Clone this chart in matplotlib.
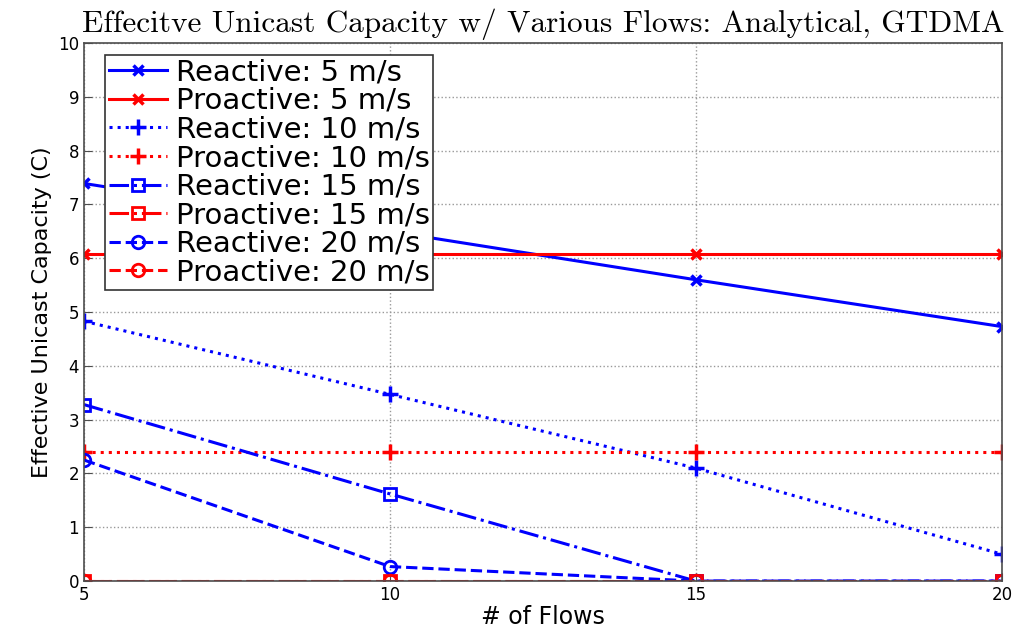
import numpy as np
import matplotlib.pyplot as plt

flows = [5, 10, 15, 20]
reactive_5 = [7.39, 6.5, 5.6, 4.73]
proactive_5 = [6.07, 6.07, 6.07, 6.07]
reactive_10 = [4.83, 3.47, 2.1, 0.5]
proactive_10 = [2.4, 2.4, 2.4, 2.4]
reactive_15 = [3.28, 1.62, 0.0, 0.0]
proactive_15 = [0.0, 0.0, 0.0, 0.0]
reactive_20 = [2.25, 0.27, 0.0, 0.0]
proactive_20 = [0.0, 0.0, 0.0, 0.0]

fig = plt.figure(figsize=(10.21, 6.33), dpi=100)
ax = fig.add_axes([0.0823, 0.082, 0.8990, 0.850])

lw = 2.2
ax.plot(flows, reactive_5, color='blue', ls='-', marker='x', ms=7, mew=2.5, lw=lw, label='Reactive: 5 m/s')
ax.plot(flows, proactive_5, color='red', ls='-', marker='x', ms=7, mew=2.5, lw=lw, label='Proactive: 5 m/s')
ax.plot(flows, reactive_10, color='blue', ls=':', marker='+', ms=11, mew=2.5, lw=lw, label='Reactive: 10 m/s')
ax.plot(flows, proactive_10, color='red', ls=':', marker='+', ms=11, mew=2.5, lw=lw, label='Proactive: 10 m/s')
ax.plot(flows, reactive_15, color='blue', ls='-.', marker='s', ms=8, mew=2, mfc='none', lw=lw, label='Reactive: 15 m/s')
ax.plot(flows, proactive_15, color='red', ls='-.', marker='s', ms=8, mew=2, mfc='none', lw=lw, label='Proactive: 15 m/s')
ax.plot(flows, reactive_20, color='blue', ls='--', marker='o', ms=9, mew=2, mfc='none', lw=lw, label='Reactive: 20 m/s')
ax.plot(flows, proactive_20, color='red', ls='--', marker='o', ms=9, mew=2, mfc='none', lw=lw, label='Proactive: 20 m/s')

ax.set_xlim(5, 20)
ax.set_ylim(0, 10)
ax.set_xticks(flows)
ax.set_yticks(range(0, 11))
ax.tick_params(direction='in', labelsize=12, length=6, color='0.3')
ax.grid(True, ls=':', color='0.6', lw=1)
for s in ax.spines.values():
    s.set_color('0.3')
    s.set_linewidth(1.2)

ax.set_xlabel('# of Flows', fontsize=17, labelpad=1)
ax.set_ylabel('Effective Unicast Capacity (C)', fontsize=16)
ax.set_title('Effecitve Unicast Capacity w/ Various Flows: Analytical, GTDMA',
             family='cmr10', fontsize=22.5, pad=8)

leg = ax.legend(loc='upper left', bbox_to_anchor=(0.023, 0.978), borderaxespad=0,
                fontsize=21, handlelength=2.0, handletextpad=0.3, labelspacing=0.02,
                borderpad=0.12, fancybox=False, framealpha=1, edgecolor='0.2')
leg.get_frame().set_linewidth(1.2)

fig.savefig('out.png', dpi=100)
